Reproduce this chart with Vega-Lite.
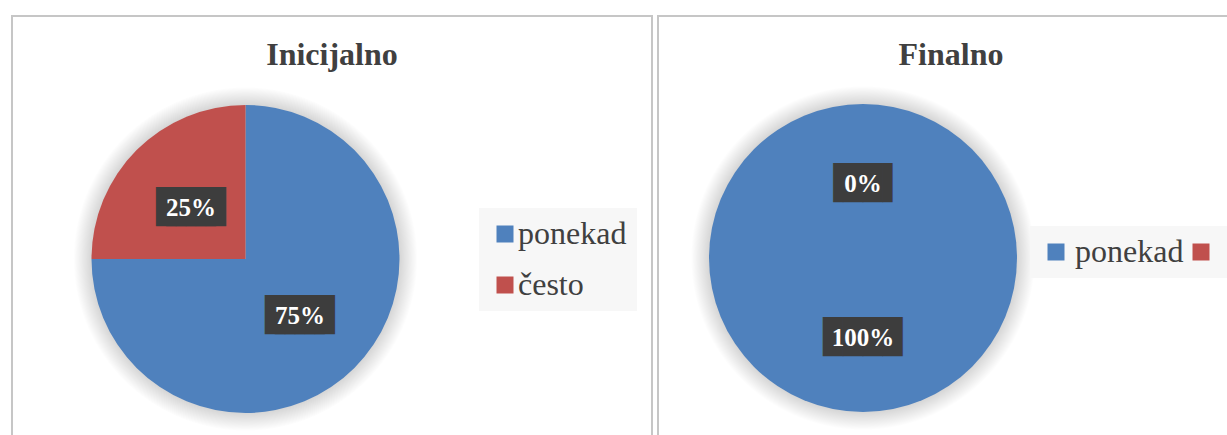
{
  "$schema": "https://vega.github.io/schema/vega-lite/v6.json",
  "padding": {"left": 11, "top": 15, "right": 0, "bottom": 0},
  "background": "white",
  "config": {
    "concat": {"spacing": 4},
    "title": {"font": "Liberation Serif", "fontSize": 32, "fontWeight": "bold", "color": "#404040", "anchor": "middle", "baseline": "alphabetic", "offset": -56}
  },
  "datasets": {
    "udjeli": [
      {"faza": "Inicijalno", "odgovor": "ponekad", "udio": 0.75},
      {"faza": "Inicijalno", "odgovor": "često", "udio": 0.25},
      {"faza": "Finalno", "odgovor": "ponekad", "udio": 1.0},
      {"faza": "Finalno", "odgovor": "često", "udio": 0.0}
    ]
  },
  "hconcat": [
    {
      "width": 640,
      "height": 422,
      "view": {"stroke": "#c6c6c6", "strokeWidth": 2},
      "title": {"text": "Inicijalno"},
      "data": {"name": "udjeli"},
      "transform": [{"filter": "datum.faza === 'Inicijalno'"}],
      "encoding": {
        "theta": {"field": "udio", "type": "quantitative", "stack": true},
        "order": {"field": "udio", "type": "quantitative", "sort": "descending"},
        "color": {
          "field": "odgovor", "type": "nominal",
          "scale": {"domain": ["ponekad", "često"], "range": ["#4f81bd", "#c0504d"]},
          "legend": {"title": null, "orient": "none", "legendX": 467, "legendY": 192, "direction": "vertical", "fillColor": "#f7f7f7", "padding": 10, "symbolType": "square", "symbolSize": 289, "symbolStrokeWidth": 0, "symbolOpacity": 1, "labelFont": "Liberation Serif", "labelFontSize": 32, "labelColor": "#404040", "labelOffset": -3, "rowPadding": 19, "labelLimit": 400}
        }
      },
      "layer": [
        {
          "transform": [{"filter": "datum.odgovor === 'ponekad'"}],
          "mark": {"type": "arc", "outerRadius": 172, "x": 233.5, "y": 243},
          "encoding": {
            "theta": {"value": 6.2832},
            "color": {"value": {"gradient": "radial", "x1": 0.5, "y1": 0.5, "r1": 0, "x2": 0.5, "y2": 0.5, "r2": 0.5, "stops": [{"offset": 0.87, "color": "rgba(0,0,0,0.2)"}, {"offset": 1, "color": "rgba(0,0,0,0)"}]}}
          }
        },
        {"mark": {"type": "arc", "outerRadius": 154, "x": 233.5, "y": 243}},
        {
          "mark": {"type": "text", "radius": 77, "x": 233.5, "y": 243, "dx": -5, "dy": 3, "font": "DejaVu Sans Mono", "fontSize": 33},
          "encoding": {"detail": {"field": "odgovor"}, "color": {"value": "#3d3d3d"}, "text": {"condition": {"test": "datum.udio > 0.1 && datum.udio < 0.9", "value": "███"}, "value": ""}}
        },
        {
          "mark": {"type": "text", "radius": 77, "x": 233.5, "y": 243, "dx": 5, "dy": 3, "font": "DejaVu Sans Mono", "fontSize": 33},
          "encoding": {"detail": {"field": "odgovor"}, "color": {"value": "#3d3d3d"}, "text": {"condition": {"test": "datum.udio > 0.1 && datum.udio < 0.9", "value": "███"}, "value": ""}}
        },
        {
          "mark": {"type": "text", "radius": 77, "x": 233.5, "y": 243, "dy": 3, "font": "Liberation Serif", "fontWeight": "bold", "fontSize": 25},
          "encoding": {"detail": {"field": "odgovor"}, "color": {"value": "white"}, "text": {"field": "udio", "type": "quantitative", "format": ".0%"}}
        }
      ]
    },
    {
      "width": 586,
      "height": 422,
      "view": {"stroke": "#c6c6c6", "strokeWidth": 2},
      "title": {"text": "Finalno"},
      "data": {"name": "udjeli"},
      "transform": [{"filter": "datum.faza === 'Finalno'"}],
      "encoding": {
        "theta": {"field": "udio", "type": "quantitative", "stack": true},
        "order": {"field": "udio", "type": "quantitative", "sort": "descending"},
        "color": {
          "field": "odgovor", "type": "nominal",
          "scale": {"domain": ["ponekad", "često"], "range": ["#4f81bd", "#c0504d"]},
          "legend": {"title": null, "orient": "none", "legendX": 372, "legendY": 210, "direction": "horizontal", "fillColor": "#f7f7f7", "padding": 10, "symbolType": "square", "symbolSize": 289, "symbolStrokeWidth": 0, "symbolOpacity": 1, "labelFont": "Liberation Serif", "labelFontSize": 32, "labelColor": "#404040", "labelOffset": 3, "columnPadding": 1, "labelLimit": 400, "labelExpr": "datum.label === 'često' ? '' : datum.label"}
        }
      },
      "layer": [
        {
          "transform": [{"filter": "datum.odgovor === 'ponekad'"}],
          "mark": {"type": "arc", "outerRadius": 172, "x": 205, "y": 242},
          "encoding": {
            "theta": {"value": 6.2832},
            "color": {"value": {"gradient": "radial", "x1": 0.5, "y1": 0.5, "r1": 0, "x2": 0.5, "y2": 0.5, "r2": 0.5, "stops": [{"offset": 0.87, "color": "rgba(0,0,0,0.2)"}, {"offset": 1, "color": "rgba(0,0,0,0)"}]}}
          }
        },
        {"mark": {"type": "arc", "outerRadius": 154, "x": 205, "y": 242}},
        {
          "mark": {"type": "text", "radius": 77, "x": 205, "y": 242, "dy": 3, "font": "DejaVu Sans Mono", "fontSize": 33},
          "encoding": {"detail": {"field": "odgovor"}, "color": {"value": "#3d3d3d"}, "text": {"condition": [{"test": "datum.udio >= 0.9", "value": "████"}, {"test": "datum.udio < 0.1", "value": "▐██▌"}], "value": ""}}
        },
        {
          "mark": {"type": "text", "radius": 77, "x": 205, "y": 242, "dy": 3, "font": "Liberation Serif", "fontWeight": "bold", "fontSize": 25},
          "encoding": {"detail": {"field": "odgovor"}, "color": {"value": "white"}, "text": {"field": "udio", "type": "quantitative", "format": ".0%"}}
        }
      ]
    }
  ],
  "resolve": {"scale": {"theta": "independent", "color": "independent"}, "legend": {"color": "independent"}}
}
